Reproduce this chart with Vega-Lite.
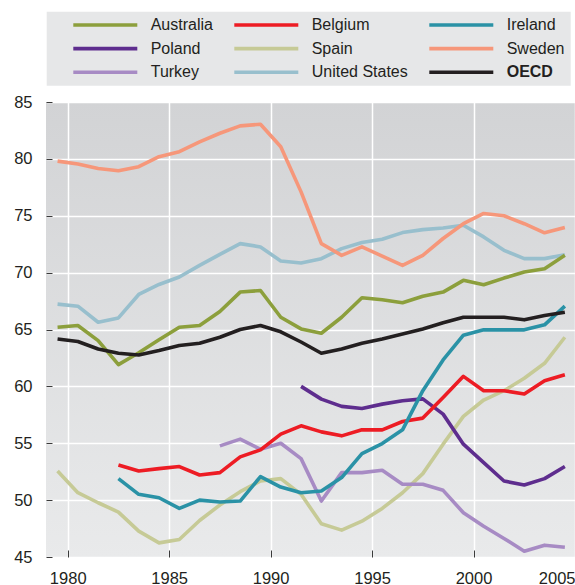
{
  "$schema": "https://vega.github.io/schema/vega-lite/v6.json",
  "width": 529,
  "height": 455,
  "autosize": "none",
  "padding": {"left": 46, "top": 102, "right": 0, "bottom": 28},
  "background": "white",
  "datasets": {
    "series": [
      {"country": "Spain", "year": 1979.5, "value": 52.56},
      {"country": "Spain", "year": 1980.5, "value": 50.65},
      {"country": "Spain", "year": 1981.5, "value": 49.77},
      {"country": "Spain", "year": 1982.5, "value": 48.95},
      {"country": "Spain", "year": 1983.5, "value": 47.27},
      {"country": "Spain", "year": 1984.5, "value": 46.24},
      {"country": "Spain", "year": 1985.5, "value": 46.54},
      {"country": "Spain", "year": 1986.5, "value": 48.21},
      {"country": "Spain", "year": 1987.5, "value": 49.57},
      {"country": "Spain", "year": 1988.5, "value": 50.74},
      {"country": "Spain", "year": 1989.5, "value": 51.68},
      {"country": "Spain", "year": 1990.5, "value": 51.89},
      {"country": "Spain", "year": 1991.5, "value": 50.51},
      {"country": "Spain", "year": 1992.5, "value": 47.92},
      {"country": "Spain", "year": 1993.5, "value": 47.36},
      {"country": "Spain", "year": 1994.5, "value": 48.15},
      {"country": "Spain", "year": 1995.5, "value": 49.27},
      {"country": "Spain", "year": 1996.5, "value": 50.65},
      {"country": "Spain", "year": 1997.5, "value": 52.33},
      {"country": "Spain", "year": 1998.5, "value": 54.92},
      {"country": "Spain", "year": 1999.5, "value": 57.36},
      {"country": "Spain", "year": 2000.5, "value": 58.8},
      {"country": "Spain", "year": 2001.5, "value": 59.62},
      {"country": "Spain", "year": 2002.5, "value": 60.71},
      {"country": "Spain", "year": 2003.5, "value": 62.03},
      {"country": "Spain", "year": 2004.5, "value": 64.32},

      {"country": "Turkey", "year": 1987.5, "value": 54.77},
      {"country": "Turkey", "year": 1988.5, "value": 55.36},
      {"country": "Turkey", "year": 1989.5, "value": 54.47},
      {"country": "Turkey", "year": 1990.5, "value": 55.0},
      {"country": "Turkey", "year": 1991.5, "value": 53.65},
      {"country": "Turkey", "year": 1992.5, "value": 49.92},
      {"country": "Turkey", "year": 1993.5, "value": 52.42},
      {"country": "Turkey", "year": 1994.5, "value": 52.42},
      {"country": "Turkey", "year": 1995.5, "value": 52.62},
      {"country": "Turkey", "year": 1996.5, "value": 51.39},
      {"country": "Turkey", "year": 1997.5, "value": 51.39},
      {"country": "Turkey", "year": 1998.5, "value": 50.86},
      {"country": "Turkey", "year": 1999.5, "value": 48.89},
      {"country": "Turkey", "year": 2000.5, "value": 47.71},
      {"country": "Turkey", "year": 2001.5, "value": 46.63},
      {"country": "Turkey", "year": 2002.5, "value": 45.51},
      {"country": "Turkey", "year": 2003.5, "value": 46.04},
      {"country": "Turkey", "year": 2004.5, "value": 45.86},

      {"country": "United States", "year": 1979.5, "value": 67.23},
      {"country": "United States", "year": 1980.5, "value": 67.05},
      {"country": "United States", "year": 1981.5, "value": 65.64},
      {"country": "United States", "year": 1982.5, "value": 66.02},
      {"country": "United States", "year": 1983.5, "value": 68.08},
      {"country": "United States", "year": 1984.5, "value": 68.96},
      {"country": "United States", "year": 1985.5, "value": 69.61},
      {"country": "United States", "year": 1986.5, "value": 70.64},
      {"country": "United States", "year": 1987.5, "value": 71.61},
      {"country": "United States", "year": 1988.5, "value": 72.55},
      {"country": "United States", "year": 1989.5, "value": 72.26},
      {"country": "United States", "year": 1990.5, "value": 71.02},
      {"country": "United States", "year": 1991.5, "value": 70.84},
      {"country": "United States", "year": 1992.5, "value": 71.23},
      {"country": "United States", "year": 1993.5, "value": 72.11},
      {"country": "United States", "year": 1994.5, "value": 72.64},
      {"country": "United States", "year": 1995.5, "value": 72.93},
      {"country": "United States", "year": 1996.5, "value": 73.52},
      {"country": "United States", "year": 1997.5, "value": 73.78},
      {"country": "United States", "year": 1998.5, "value": 73.93},
      {"country": "United States", "year": 1999.5, "value": 74.17},
      {"country": "United States", "year": 2000.5, "value": 73.14},
      {"country": "United States", "year": 2001.5, "value": 71.96},
      {"country": "United States", "year": 2002.5, "value": 71.23},
      {"country": "United States", "year": 2003.5, "value": 71.23},
      {"country": "United States", "year": 2004.5, "value": 71.58},

      {"country": "Poland", "year": 1991.5, "value": 60.0},
      {"country": "Poland", "year": 1992.5, "value": 58.88},
      {"country": "Poland", "year": 1993.5, "value": 58.24},
      {"country": "Poland", "year": 1994.5, "value": 58.06},
      {"country": "Poland", "year": 1995.5, "value": 58.44},
      {"country": "Poland", "year": 1996.5, "value": 58.74},
      {"country": "Poland", "year": 1997.5, "value": 58.9},
      {"country": "Poland", "year": 1998.5, "value": 57.56},
      {"country": "Poland", "year": 1999.5, "value": 54.92},
      {"country": "Poland", "year": 2000.5, "value": 53.3},
      {"country": "Poland", "year": 2001.5, "value": 51.68},
      {"country": "Poland", "year": 2002.5, "value": 51.33},
      {"country": "Poland", "year": 2003.5, "value": 51.89},
      {"country": "Poland", "year": 2004.5, "value": 52.95},

      {"country": "Belgium", "year": 1982.5, "value": 53.09},
      {"country": "Belgium", "year": 1983.5, "value": 52.56},
      {"country": "Belgium", "year": 1984.5, "value": 52.77},
      {"country": "Belgium", "year": 1985.5, "value": 52.95},
      {"country": "Belgium", "year": 1986.5, "value": 52.21},
      {"country": "Belgium", "year": 1987.5, "value": 52.42},
      {"country": "Belgium", "year": 1988.5, "value": 53.8},
      {"country": "Belgium", "year": 1989.5, "value": 54.42},
      {"country": "Belgium", "year": 1990.5, "value": 55.8},
      {"country": "Belgium", "year": 1991.5, "value": 56.53},
      {"country": "Belgium", "year": 1992.5, "value": 56.0},
      {"country": "Belgium", "year": 1993.5, "value": 55.65},
      {"country": "Belgium", "year": 1994.5, "value": 56.18},
      {"country": "Belgium", "year": 1995.5, "value": 56.18},
      {"country": "Belgium", "year": 1996.5, "value": 56.91},
      {"country": "Belgium", "year": 1997.5, "value": 57.21},
      {"country": "Belgium", "year": 1998.5, "value": 59.03},
      {"country": "Belgium", "year": 1999.5, "value": 60.88},
      {"country": "Belgium", "year": 2000.5, "value": 59.62},
      {"country": "Belgium", "year": 2001.5, "value": 59.62},
      {"country": "Belgium", "year": 2002.5, "value": 59.33},
      {"country": "Belgium", "year": 2003.5, "value": 60.5},
      {"country": "Belgium", "year": 2004.5, "value": 61.03},

      {"country": "Ireland", "year": 1982.5, "value": 51.89},
      {"country": "Ireland", "year": 1983.5, "value": 50.51},
      {"country": "Ireland", "year": 1984.5, "value": 50.21},
      {"country": "Ireland", "year": 1985.5, "value": 49.27},
      {"country": "Ireland", "year": 1986.5, "value": 50.0},
      {"country": "Ireland", "year": 1987.5, "value": 49.83},
      {"country": "Ireland", "year": 1988.5, "value": 49.92},
      {"country": "Ireland", "year": 1989.5, "value": 52.07},
      {"country": "Ireland", "year": 1990.5, "value": 51.15},
      {"country": "Ireland", "year": 1991.5, "value": 50.65},
      {"country": "Ireland", "year": 1992.5, "value": 50.8},
      {"country": "Ireland", "year": 1993.5, "value": 51.98},
      {"country": "Ireland", "year": 1994.5, "value": 54.09},
      {"country": "Ireland", "year": 1995.5, "value": 54.97},
      {"country": "Ireland", "year": 1996.5, "value": 56.18},
      {"country": "Ireland", "year": 1997.5, "value": 59.62},
      {"country": "Ireland", "year": 1998.5, "value": 62.32},
      {"country": "Ireland", "year": 1999.5, "value": 64.5},
      {"country": "Ireland", "year": 2000.5, "value": 64.97},
      {"country": "Ireland", "year": 2001.5, "value": 64.97},
      {"country": "Ireland", "year": 2002.5, "value": 64.97},
      {"country": "Ireland", "year": 2003.5, "value": 65.41},
      {"country": "Ireland", "year": 2004.5, "value": 67.05},

      {"country": "Sweden", "year": 1979.5, "value": 79.8},
      {"country": "Sweden", "year": 1980.5, "value": 79.55},
      {"country": "Sweden", "year": 1981.5, "value": 79.16},
      {"country": "Sweden", "year": 1982.5, "value": 78.96},
      {"country": "Sweden", "year": 1983.5, "value": 79.31},
      {"country": "Sweden", "year": 1984.5, "value": 80.19},
      {"country": "Sweden", "year": 1985.5, "value": 80.63},
      {"country": "Sweden", "year": 1986.5, "value": 81.5},
      {"country": "Sweden", "year": 1987.5, "value": 82.25},
      {"country": "Sweden", "year": 1988.5, "value": 82.9},
      {"country": "Sweden", "year": 1989.5, "value": 83.04},
      {"country": "Sweden", "year": 1990.5, "value": 81.07},
      {"country": "Sweden", "year": 1991.5, "value": 77.1},
      {"country": "Sweden", "year": 1992.5, "value": 72.55},
      {"country": "Sweden", "year": 1993.5, "value": 71.52},
      {"country": "Sweden", "year": 1994.5, "value": 72.26},
      {"country": "Sweden", "year": 1995.5, "value": 71.46},
      {"country": "Sweden", "year": 1996.5, "value": 70.64},
      {"country": "Sweden", "year": 1997.5, "value": 71.52},
      {"country": "Sweden", "year": 1998.5, "value": 73.0},
      {"country": "Sweden", "year": 1999.5, "value": 74.3},
      {"country": "Sweden", "year": 2000.5, "value": 75.2},
      {"country": "Sweden", "year": 2001.5, "value": 75.0},
      {"country": "Sweden", "year": 2002.5, "value": 74.3},
      {"country": "Sweden", "year": 2003.5, "value": 73.5},
      {"country": "Sweden", "year": 2004.5, "value": 73.96},

      {"country": "Australia", "year": 1979.5, "value": 65.2},
      {"country": "Australia", "year": 1980.5, "value": 65.35},
      {"country": "Australia", "year": 1981.5, "value": 64.02},
      {"country": "Australia", "year": 1982.5, "value": 61.91},
      {"country": "Australia", "year": 1983.5, "value": 62.95},
      {"country": "Australia", "year": 1984.5, "value": 64.1},
      {"country": "Australia", "year": 1985.5, "value": 65.2},
      {"country": "Australia", "year": 1986.5, "value": 65.35},
      {"country": "Australia", "year": 1987.5, "value": 66.58},
      {"country": "Australia", "year": 1988.5, "value": 68.29},
      {"country": "Australia", "year": 1989.5, "value": 68.43},
      {"country": "Australia", "year": 1990.5, "value": 66.08},
      {"country": "Australia", "year": 1991.5, "value": 65.05},
      {"country": "Australia", "year": 1992.5, "value": 64.67},
      {"country": "Australia", "year": 1993.5, "value": 66.08},
      {"country": "Australia", "year": 1994.5, "value": 67.79},
      {"country": "Australia", "year": 1995.5, "value": 67.61},
      {"country": "Australia", "year": 1996.5, "value": 67.35},
      {"country": "Australia", "year": 1997.5, "value": 67.93},
      {"country": "Australia", "year": 1998.5, "value": 68.29},
      {"country": "Australia", "year": 1999.5, "value": 69.32},
      {"country": "Australia", "year": 2000.5, "value": 68.93},
      {"country": "Australia", "year": 2001.5, "value": 69.52},
      {"country": "Australia", "year": 2002.5, "value": 70.05},
      {"country": "Australia", "year": 2003.5, "value": 70.34},
      {"country": "Australia", "year": 2004.5, "value": 71.52},

      {"country": "OECD", "year": 1979.5, "value": 64.17},
      {"country": "OECD", "year": 1980.5, "value": 63.95},
      {"country": "OECD", "year": 1981.5, "value": 63.29},
      {"country": "OECD", "year": 1982.5, "value": 62.91},
      {"country": "OECD", "year": 1983.5, "value": 62.76},
      {"country": "OECD", "year": 1984.5, "value": 63.15},
      {"country": "OECD", "year": 1985.5, "value": 63.59},
      {"country": "OECD", "year": 1986.5, "value": 63.79},
      {"country": "OECD", "year": 1987.5, "value": 64.32},
      {"country": "OECD", "year": 1988.5, "value": 65.0},
      {"country": "OECD", "year": 1989.5, "value": 65.35},
      {"country": "OECD", "year": 1990.5, "value": 64.8},
      {"country": "OECD", "year": 1991.5, "value": 63.9},
      {"country": "OECD", "year": 1992.5, "value": 62.91},
      {"country": "OECD", "year": 1993.5, "value": 63.29},
      {"country": "OECD", "year": 1994.5, "value": 63.79},
      {"country": "OECD", "year": 1995.5, "value": 64.17},
      {"country": "OECD", "year": 1996.5, "value": 64.61},
      {"country": "OECD", "year": 1997.5, "value": 65.05},
      {"country": "OECD", "year": 1998.5, "value": 65.6},
      {"country": "OECD", "year": 1999.5, "value": 66.08},
      {"country": "OECD", "year": 2000.5, "value": 66.08},
      {"country": "OECD", "year": 2001.5, "value": 66.08},
      {"country": "OECD", "year": 2002.5, "value": 65.85},
      {"country": "OECD", "year": 2003.5, "value": 66.23},
      {"country": "OECD", "year": 2004.5, "value": 66.52}
    ]
  },
  "data": {"name": "series"},
  "mark": {"type": "line", "strokeJoin": "round", "strokeCap": "butt"},
  "encoding": {
    "x": {
      "field": "year",
      "type": "quantitative",
      "scale": {"domain": [1978.93, 2005], "nice": false, "zero": false},
      "axis": {
        "title": null,
        "values": [1980, 1985, 1990, 1995, 2000, 2005],
        "format": "d",
        "labelFlush": true,
        "tickSize": -7,
        "labelPadding": 20
      }
    },
    "y": {
      "field": "value",
      "type": "quantitative",
      "scale": {"domain": [45, 85], "nice": false, "zero": false},
      "axis": {
        "title": null,
        "values": [45, 50, 55, 60, 65, 70, 75, 80, 85],
        "tickSize": -6,
        "labelPadding": 20
      }
    },
    "color": {
      "field": "country",
      "type": "nominal",
      "scale": {
        "domain": ["Australia", "Belgium", "Ireland", "Poland", "Spain", "Sweden", "Turkey", "United States", "OECD"],
        "range": ["#8c9f3c", "#ed1c24", "#2a92a6", "#5e2d8e", "#c6ca96", "#f6977a", "#a78bc4", "#98bfcd", "#231f20"]
      },
      "legend": {
        "orient": "none",
        "legendX": 0.7,
        "legendY": -90.3,
        "columns": 3,
        "direction": "horizontal",
        "title": null,
        "symbolType": "M-16,0H16",
        "symbolSize": 16,
        "symbolStrokeWidth": 3.5,
        "labelFont": "Liberation Sans, Arial, sans-serif",
        "labelFontSize": 16,
        "labelColor": "#231f20",
        "labelFontWeight": {"expr": "datum.value == 'OECD' ? 'bold' : 'normal'"},
        "labelOffset": 37.4,
        "labelLimit": 0,
        "padding": 5.3,
        "symbolOffset": 45.3,
        "columnPadding": 0,
        "rowPadding": 7.6,
        "fillColor": "#e6e7e8",
        "strokeColor": null
      }
    },
    "strokeWidth": {
      "field": "country",
      "type": "nominal",
      "scale": {
        "domain": ["Australia", "Belgium", "Ireland", "Poland", "Spain", "Sweden", "Turkey", "United States", "OECD"],
        "range": [3.6, 3.6, 3.6, 3.6, 3.6, 3.6, 3.6, 3.6, 5.2]
      },
      "legend": null
    }
  },
  "config": {
    "view": {
      "stroke": null,
      "fill": {
        "gradient": "linear",
        "x1": 0, "y1": 0, "x2": 0, "y2": 1,
        "stops": [
          {"offset": 0, "color": "#d2d3d5"},
          {"offset": 1, "color": "#e9eaeb"}
        ]
      }
    },
    "axis": {
      "domain": false,
      "grid": true,
      "gridColor": "#ffffff",
      "gridWidth": 1.5,
      "gridOpacity": 1,
      "tickColor": "#3a3a3a",
      "tickWidth": 1,
      "labelFont": "Liberation Sans, Arial, sans-serif",
      "labelFontSize": 16.5,
      "labelColor": "#231f20"
    }
  }
}
